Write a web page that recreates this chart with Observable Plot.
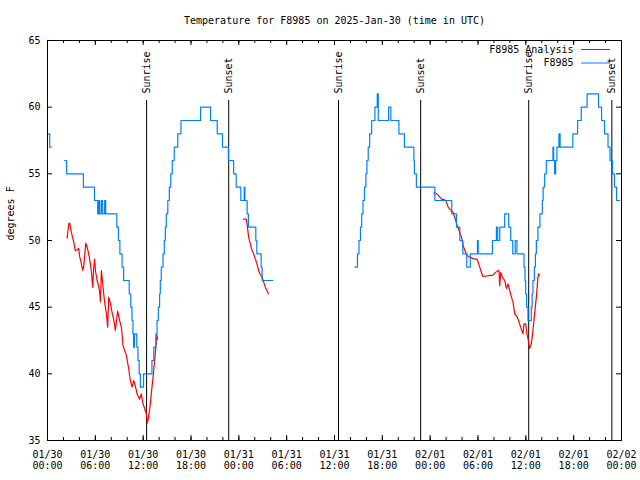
<!DOCTYPE html>
<html><head><meta charset="utf-8">
<script src="https://cdn.jsdelivr.net/npm/d3@7"></script>
<script src="https://cdn.jsdelivr.net/npm/@observablehq/plot@0.6"></script>
<style>body{margin:0;background:#fff}</style>
</head><body><div id="chart"></div>
<script>
const titleText = "Temperature for F8985 on 2025-Jan-30 (time in UTC)";
const yLabel = "degrees F";
const startTime = "2025-01-30T00:00:00Z";
const endTime = "2025-02-02T00:00:00Z";
const yTicks = [35, 40, 45, 50, 55, 60, 65];
const seriesNames = ["F8985 Analysis", "F8985"];
const seriesColors = ["#ff0000", "#0080ff"];
const sunLabels = ["Sunrise", "Sunset", "Sunrise", "Sunset", "Sunrise", "Sunset"];
const sunHours = [12.43, 22.73, 36.5, 46.81, 60.36, 70.79];

// [hours since start, temperature]; null temperature = gap in the record
const analysisPoints = [
  [2.47,50.2],[2.54,50.6],[2.67,51.25],[2.79,51.3],[2.88,51.0],[3.01,50.6],[3.13,50.25],[3.29,49.9],
  [3.47,49.25],[3.72,49.3],[3.92,49.4],[4.04,48.75],[4.17,48.5],[4.30,48.1],[4.42,47.75],[4.55,48.1],
  [4.80,49.8],[4.97,49.5],[5.17,49.0],[5.38,48.25],[5.51,47.6],[5.67,46.5],[5.80,48.0],[5.92,48.6],
  [6.01,47.75],[6.22,47.0],[6.35,46.75],[6.55,46.1],[6.64,45.4],[6.76,47.75],[6.89,47.0],[7.05,46.0],
  [7.18,45.3],[7.39,44.5],[7.55,43.5],[7.68,45.75],[7.89,45.3],[8.10,44.6],[8.30,44.1],[8.51,43.25],
  [8.80,44.7],[9.05,44.0],[9.27,43.5],[9.48,42.1],[9.68,41.75],[9.89,41.4],[10.18,40.4],[10.39,39.5],
  [10.61,39.0],[10.81,39.5],[11.02,39.1],[11.23,38.5],[11.56,38.1],[11.77,38.5],[11.93,37.9],[12.18,37.4],
  [12.40,37.0],[12.52,36.3],[12.68,36.75],[12.90,37.75],[13.02,38.5],[13.24,39.75],[13.44,41.0],
  [13.65,42.4],[13.73,42.9],[13.81,42.6],
  [14.0,null],
  [24.6,51.6],[24.94,51.6],[25.03,51.25],[25.23,50.25],[25.44,49.75],[25.66,49.25],[25.86,49.0],
  [26.07,48.6],[26.28,48.25],[26.48,47.75],[26.7,47.45],[26.91,47.25],[27.11,46.9],[27.32,46.5],
  [27.53,46.25],[27.7,46.0],
  [27.9,null],
  [48.46,53.55],[48.71,53.55],[49.0,53.4],[49.21,53.25],[49.42,53.1],[49.84,53.05],[50.05,52.9],
  [50.25,52.5],[50.55,52.3],[50.88,52.1],[51.21,51.5],[51.38,51.1],[51.63,50.75],[51.93,50.25],
  [52.13,49.6],[52.47,49.1],[52.76,48.8],[53.18,48.7],[53.59,48.6],[53.88,48.6],[54.01,48.4],
  [54.22,48.0],[54.43,47.6],[54.63,47.3],[55.89,47.4],[56.1,47.55],[56.39,47.7],[56.64,47.75],
  [56.72,46.6],[56.85,47.6],[57.06,47.25],[57.35,47.0],[57.56,46.4],[57.76,46.75],[57.98,46.25],
  [58.19,45.75],[58.39,45.4],[58.6,44.5],[58.89,44.3],[59.14,43.9],[59.35,43.5],[59.64,43.0],
  [59.77,43.75],[59.98,43.75],[60.14,43.0],[60.32,42.5],[60.48,41.9],[60.69,42.25],[60.89,43.25],
  [61.1,44.5],[61.32,45.75],[61.52,47.25],[61.6,47.5],[61.73,47.4]
];

const observedPoints = [
  [0.0,58],[0.28,57],[0.47,57],
  [1.0,null],
  [2.15,56],[2.4,55],[4.5,54],[5.9,53],[6.3,52],[6.42,53],[6.55,52],[6.76,53],[6.92,52],[7.17,53],
  [7.3,52],[8.7,51],[8.9,50],[9.08,49],[9.35,48],[9.55,47],[10.25,46],[10.45,45],[10.6,44],[10.72,43],
  [10.8,42],[10.9,43],[11.2,42],[11.35,41],[11.5,40],[11.65,39],[12.05,40],[13.1,41],[13.33,42],
  [13.59,43],[13.74,44],[13.9,45],[14.06,46],[14.15,47],[14.27,48],[14.49,49],[14.65,50],[14.78,51],
  [14.9,52],[15.09,53],[15.28,54],[15.46,55],[15.65,56],[15.9,57],[16.34,58],[16.74,59],[19.2,60],
  [20.45,59],[21.29,58],[21.95,57],[22.69,56],[23.35,55],[23.67,54],[24.25,53],[24.67,54],[24.76,53],
  [25.04,52],[25.2,51],[26.13,50],[26.26,49],[26.8,48],[26.92,47],[28.26,47],
  [30.0,null],
  [38.57,48],[38.88,49],[39.07,50],[39.26,51],[39.41,52],[39.57,53],[39.76,54],[39.94,55],[40.07,56],
  [40.23,57],[40.41,58],[40.66,59],[41.07,60],[41.36,61],[41.49,59],[42.79,60],[43.07,59],[44.08,58],
  [44.77,57],[45.96,56],[46.02,55],[46.27,54],[48.59,53],[50.71,52],[51.3,51],[51.72,50],[52.1,49],
  [52.59,48],[53.03,49],[53.93,50],[54.03,49],[55.81,50],[56.31,51],[56.47,50],[56.73,51],[57.35,52],
  [57.85,51],[58.1,50],[58.36,49],[58.67,50],[58.89,49],[59.77,48],[59.89,47],[59.98,46],[60.1,45],
  [60.27,44],[60.69,45],[60.79,46],[60.89,47],[61.07,48],[61.2,49],[61.32,50],[61.52,51],[61.77,52],
  [62.07,53],[62.17,54],[62.36,55],[62.57,56],[63.4,57],[63.49,56],[63.61,55],[63.74,56],[63.9,57],
  [64.15,58],[64.3,57],[65.9,58],[66.49,59],[66.95,60],[67.68,61],[69.12,60],[69.5,59],[69.87,58],
  [70.31,57],[70.56,56],[70.87,55],[71.12,54],[71.38,53],[71.75,53]
];

const t0 = new Date(startTime), t1 = new Date(endTime);
const toDate = h => new Date(+t0 + h * 3600e3);
const analysis = analysisPoints.map(([h, t]) => ({time: toDate(h), temp: t}));
const observed = observedPoints.map(([h, t]) => ({time: toDate(h), temp: t}));
const sun = sunHours.map((h, i) => ({time: toDate(h), label: sunLabels[i]}));
const majorTicks = d3.utcHour.every(6).range(t0, new Date(+t1 + 1));
const minorTicks = d3.utcHour.every(2).range(t0, new Date(+t1 + 1));

const W = 640, H = 480, mL = 47, mR = 19, mT = 40, mB = 40;
const fw = W - mL - mR, fh = H - mT - mB;
const lineShape = {draw(context, l) { context.moveTo(0, 0); context.lineTo(0, -l); }};

const chart = Plot.plot({
  width: W, height: H, marginLeft: mL, marginRight: mR, marginTop: mT, marginBottom: mB,
  style: {fontFamily: "'DejaVu Sans Mono', monospace", fontSize: "10px", background: "white", color: "black"},
  x: {type: "utc", domain: [t0, t1]},
  y: {domain: [35, 65]},
  marks: [
    Plot.ruleX(minorTicks, {insetTop: fh - 3}),
    Plot.ruleX(minorTicks, {insetBottom: fh - 3}),
    Plot.ruleX(majorTicks, {insetTop: fh - 5}),
    Plot.ruleX(majorTicks, {insetBottom: fh - 5}),
    Plot.ruleY(yTicks, {insetRight: fw - 5}),
    Plot.ruleY(yTicks, {insetLeft: fw - 5}),
    Plot.axisX(majorTicks, {tickSize: 0, tickPadding: 9, label: null, lineHeight: 1.15,
      tickFormat: d => d3.utcFormat("%m/%d")(d) + "\n" + d3.utcFormat("%H:%M")(d)}),
    Plot.axisY(yTicks, {tickSize: 0, tickPadding: 7, label: null}),
    Plot.text([yLabel], {frameAnchor: "left", dx: -37, rotate: -90, lineAnchor: "middle"}),
    Plot.text([titleText], {frameAnchor: "top", dy: -20, lineAnchor: "middle"}),
    Plot.ruleX(sun, {x: "time", insetTop: 60, stroke: "black"}),
    Plot.text(sun, {x: "time", text: "label", frameAnchor: "top", dy: 53, rotate: -90, textAnchor: "start", lineAnchor: "middle"}),
    Plot.line(analysis, {x: "time", y: "temp", stroke: seriesColors[0], strokeWidth: 1.2}),
    Plot.line(observed, {x: "time", y: "temp", stroke: seriesColors[1], strokeWidth: 1.2, curve: "step-after"}),
    Plot.text([seriesNames[0]], {frameAnchor: "top-right", dx: -48, dy: 9, textAnchor: "end", lineAnchor: "middle"}),
    Plot.text([seriesNames[1]], {frameAnchor: "top-right", dx: -48, dy: 22.5, textAnchor: "end", lineAnchor: "middle"}),
    Plot.vector([0], {frameAnchor: "top-right", dx: -40, dy: 9, rotate: 90, length: 28, anchor: "start", stroke: seriesColors[0], strokeWidth: 1.2, shape: lineShape}),
    Plot.vector([0], {frameAnchor: "top-right", dx: -40, dy: 22.5, rotate: 90, length: 28, anchor: "start", stroke: seriesColors[1], strokeWidth: 1.2, shape: lineShape}),
    Plot.frame({stroke: "black"})
  ]
});
document.getElementById("chart").append(chart);
</script>
</body></html>
